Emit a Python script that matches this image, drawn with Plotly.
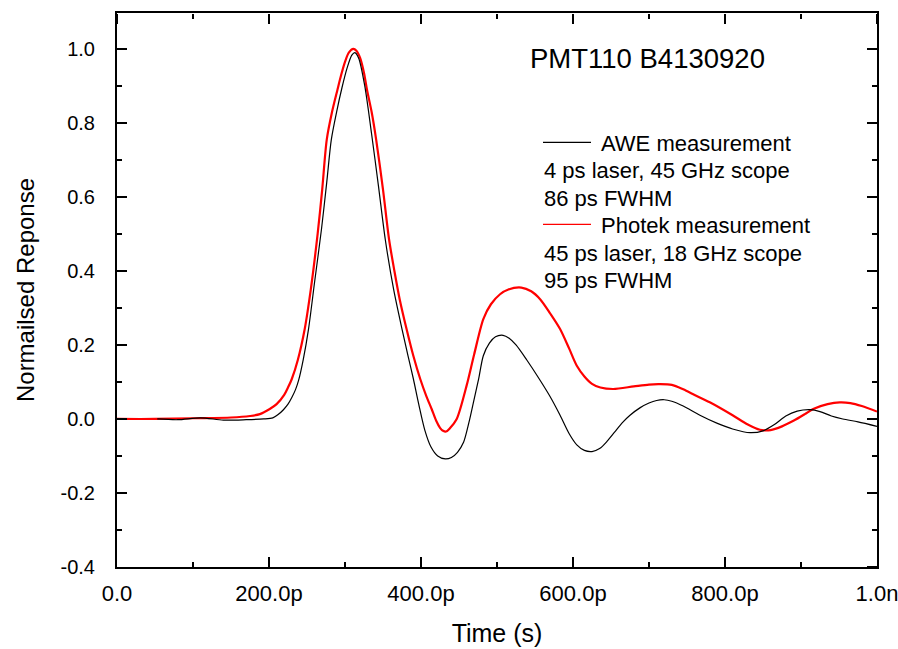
import plotly.graph_objects as go

# ---- data (time in ps, normalised response) ----
awe_t = [53, 80, 110, 140, 170, 193, 205, 212, 219, 225, 230, 235, 239, 245, 252, 260,
         269, 276, 282, 289, 296, 303, 309, 313, 318, 326, 335, 344, 353, 364, 375, 383,
         390, 397, 405, 413, 422, 432, 440, 448, 456, 463, 469, 476, 482, 490, 498, 508,
         516, 525, 539, 555, 570, 583, 595, 605, 615, 625, 635, 645, 655, 665, 675, 688,
         700, 710, 720, 730, 745, 767, 790, 810, 833, 850, 865, 880, 895, 912, 925, 940,
         955, 975, 1000]
awe_y = [0.0, -0.002, 0.003, -0.003, -0.002, 0.0, 0.003, 0.012, 0.025, 0.04, 0.058, 0.08,
         0.105, 0.16, 0.243, 0.37, 0.512, 0.64, 0.755, 0.83, 0.895, 0.95, 0.983, 0.99, 0.975,
         0.9, 0.77, 0.63, 0.485, 0.35, 0.243, 0.17, 0.108, 0.04, -0.03, -0.075, -0.1, -0.108,
         -0.104, -0.09, -0.063, -0.01, 0.045, 0.11, 0.171, 0.205, 0.222, 0.226, 0.218, 0.2,
         0.16, 0.11, 0.06, 0.01, -0.04, -0.07, -0.085, -0.088, -0.08, -0.06, -0.035, -0.01,
         0.01, 0.03, 0.043, 0.05, 0.052, 0.048, 0.035, 0.01, -0.012, -0.027, -0.037, -0.032,
         -0.015, 0.008, 0.021, 0.025, 0.02, 0.008, 0.0, -0.008, -0.02]

photek_t = [0, 50, 100, 150, 175, 188, 201, 210, 220, 225, 230, 238, 247, 255, 264, 270,
            276, 283, 290, 295, 300, 305, 311, 315, 320, 325, 329, 335, 341, 350, 358, 365,
            372, 381, 390, 399, 407, 414, 420, 425, 429, 433, 438, 447, 460, 470, 482, 492,
            504, 515, 532, 545, 557, 570, 583, 595, 605, 615, 625, 636, 653, 680, 700, 714,
            730, 745, 760, 780, 810, 830, 846, 860, 875, 890, 905, 916, 935, 951, 965, 980,
            1000]
photek_y = [0.0, 0.0, 0.002, 0.004, 0.008, 0.013, 0.027, 0.04, 0.065, 0.085, 0.108, 0.16,
            0.243, 0.35, 0.5, 0.62, 0.755, 0.83, 0.889, 0.93, 0.965, 0.99, 1.0, 0.995, 0.975,
            0.935, 0.889, 0.83, 0.755, 0.62, 0.485, 0.4, 0.323, 0.243, 0.17, 0.108, 0.062,
            0.027, -0.005, -0.024, -0.032, -0.034, -0.025, 0.0, 0.09, 0.175, 0.27, 0.31, 0.337,
            0.35, 0.355, 0.345, 0.323, 0.285, 0.243, 0.19, 0.144, 0.115, 0.095, 0.085, 0.081,
            0.088, 0.093, 0.094, 0.092, 0.08, 0.065, 0.045, 0.01, -0.015, -0.029, -0.03, -0.02,
            -0.005, 0.013, 0.027, 0.04, 0.045, 0.043, 0.035, 0.02]

x_tickvals = [0, 200, 400, 600, 800, 1000]
x_ticktext = ["0.0", "200.0p", "400.0p", "600.0p", "800.0p", "1.0n"]
x_minorvals = [100, 300, 500, 700, 900]
y_tickvals = [-0.4, -0.2, 0.0, 0.2, 0.4, 0.6, 0.8, 1.0]
y_ticktext = ["-0.4", "-0.2", "0.0", "0.2", "0.4", "0.6", "0.8", "1.0"]
y_minorvals = [-0.3, -0.1, 0.1, 0.3, 0.5, 0.7, 0.9]

title_text = "PMT110 B4130920"
legend_awe = ["AWE measurement", "4 ps laser, 45 GHz scope", "86 ps FWHM"]
legend_photek = ["Photek measurement", "45 ps laser, 18 GHz scope", "95 ps FWHM"]

FONT = "Liberation Sans, Arial, sans-serif"

W, H = 898, 649
L, R, T, B = 117, 21, 13, 82
PW, PH = W - L - R, H - T - B
XR = [0, 1000]
YR = [-0.4, 1.097]


def px(x):
    return (x - L) / PW


def py(y):
    return (H - B - y) / PH


fig = go.Figure()
fig.add_trace(go.Scatter(x=photek_t, y=photek_y, mode="lines",
                         line=dict(color="#ff0000", width=2.2, shape="spline", smoothing=0.8),
                         showlegend=False, hoverinfo="skip"))
fig.add_trace(go.Scatter(x=awe_t, y=awe_y, mode="lines",
                         line=dict(color="#000000", width=1.2, shape="spline", smoothing=0.8),
                         showlegend=False, hoverinfo="skip"))
# invisible copies that activate the extra tick-only axes (minor ticks, top/right ticks)
for xa, ya in (("x2", "y2"), ("x3", "y3"), ("x4", "y4")):
    fig.add_trace(go.Scatter(x=awe_t, y=awe_y, xaxis=xa, yaxis=ya, mode="lines",
                             line=dict(color="rgba(0,0,0,0)", width=0),
                             showlegend=False, hoverinfo="skip"))

annotations = []
annotations.append(dict(x=px(528), y=py(59), xref="paper", yref="paper", text=title_text,
                        showarrow=False, xanchor="left", yanchor="middle",
                        font=dict(family=FONT, size=27.5, color="black")))
rows = [143.4, 170.7, 198.4, 225.7, 253.4, 280.7]
lines = legend_awe + legend_photek
for i, (yy, t) in enumerate(zip(rows, lines)):
    x0 = 599 if i in (0, 3) else 542
    annotations.append(dict(x=px(x0), y=py(yy), xref="paper", yref="paper", text=t,
                            showarrow=False, xanchor="left", yanchor="middle",
                            font=dict(family=FONT, size=22, color="black")))

shapes = [
    dict(type="line", xref="paper", yref="paper", x0=px(543), x1=px(591), y0=py(142.3), y1=py(142.3),
         line=dict(color="black", width=1.2)),
    dict(type="line", xref="paper", yref="paper", x0=px(543), x1=px(591), y0=py(224.3), y1=py(224.3),
         line=dict(color="#ff0000", width=1.2)),
]

tick_common = dict(tickwidth=1.5, tickcolor="black",
                   showgrid=False, zeroline=False, automargin=False)

fig.update_layout(
    width=W, height=H,
    margin=dict(l=L, r=R, t=T, b=B, pad=0, autoexpand=False),
    paper_bgcolor="white", plot_bgcolor="white",
    font=dict(family=FONT, color="black"),
    annotations=annotations, shapes=shapes,
    showlegend=False,
    xaxis=dict(range=XR, tickvals=x_tickvals, ticktext=x_ticktext, ticks="inside", ticklen=10,
               showline=True, linecolor="black", linewidth=2, mirror=True,
               tickfont=dict(family=FONT, size=22, color="black"),
               ticklabelstandoff=6, ticklabeloverflow="allow",
               title=dict(text="Time (s)", font=dict(family=FONT, size=25, color="black"), standoff=19),
               **tick_common),
    yaxis=dict(range=YR, tickvals=y_tickvals, ticktext=y_ticktext, ticks="inside", ticklen=10,
               showline=True, linecolor="black", linewidth=2, mirror=True,
               tickfont=dict(family=FONT, size=20, color="black"),
               ticklabelstandoff=16,
               title=dict(text="Normailsed Reponse", font=dict(family=FONT, size=24, color="black"), standoff=19),
               **tick_common),
    # bottom / left minor ticks
    xaxis2=dict(range=XR, overlaying="x", side="bottom", anchor="y2", tickvals=x_minorvals,
                showticklabels=False, ticks="inside", ticklen=5, showline=False, **tick_common),
    yaxis2=dict(range=YR, overlaying="y", side="left", anchor="x2", tickvals=y_minorvals,
                showticklabels=False, ticks="inside", ticklen=5, showline=False, **tick_common),
    # top / right major ticks (free axes placed on the far edges, ticks pointing inwards)
    xaxis3=dict(range=XR, overlaying="x", side="bottom", anchor="free", position=1.0,
                tickvals=x_tickvals, showticklabels=False, ticks="outside", ticklen=10,
                showline=False, **tick_common),
    yaxis3=dict(range=YR, overlaying="y", side="left", anchor="free", position=1.0,
                tickvals=y_tickvals, showticklabels=False, ticks="outside", ticklen=10,
                showline=False, **tick_common),
    # top / right minor ticks
    xaxis4=dict(range=XR, overlaying="x", side="bottom", anchor="free", position=1.0,
                tickvals=x_minorvals, showticklabels=False, ticks="outside", ticklen=5,
                showline=False, **tick_common),
    yaxis4=dict(range=YR, overlaying="y", side="left", anchor="free", position=1.0,
                tickvals=y_minorvals, showticklabels=False, ticks="outside", ticklen=5,
                showline=False, **tick_common),
)

fig.write_html("out.html")
